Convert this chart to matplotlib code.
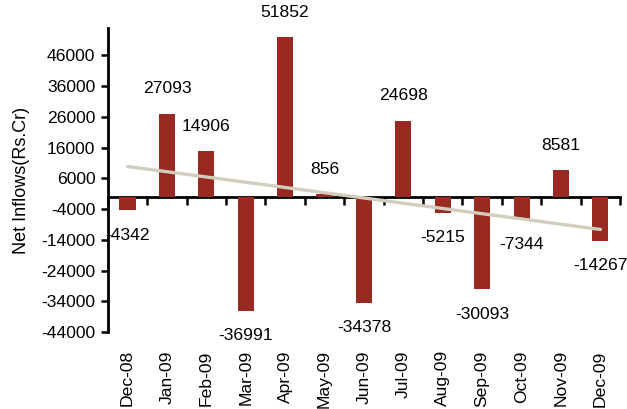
import numpy as np
import matplotlib
matplotlib.use("Agg")
import matplotlib.pyplot as plt

months = ["Dec-08", "Jan-09", "Feb-09", "Mar-09", "Apr-09", "May-09", "Jun-09",
          "Jul-09", "Aug-09", "Sep-09", "Oct-09", "Nov-09", "Dec-09"]
net_inflows = [-4342, 27093, 14906, -36991, 51852, 856, -34378,
               24698, -5215, -30093, -7344, 8581, -14267]
y_ticks = [-44000, -34000, -24000, -14000, -4000, 6000, 16000, 26000, 36000, 46000]

plt.rcParams["font.family"] = ["Liberation Sans", "DejaVu Sans"]
FS = 12.6

bar_color = "#982A22"
trend_color = "#D2CEBE"

fig = plt.figure(figsize=(6.27, 4.09), dpi=100)
ax = fig.add_axes([0.172, 0.188, 0.817, 0.744])

x = np.arange(len(months))
ax.bar(x, net_inflows, width=0.41, color=bar_color, zorder=2)

# linear trend through the monthly values
slope, intercept = np.polyfit(x, net_inflows, 1)
ax.plot([x[0], x[-1]], [intercept + slope * x[0], intercept + slope * x[-1]],
        color=trend_color, lw=2.4, zorder=3, solid_capstyle="round")

for xi, v in zip(x, net_inflows):
    off = 18 if v >= 0 else -18
    ax.annotate(f"{v}", (xi, v), xytext=(0, off), textcoords="offset points",
                ha="center", va="center", fontsize=FS, color="black")

ax.set_xlim(-0.5, len(months) - 0.5)
ax.set_ylim(-44000, 55000)
ax.set_yticks(y_ticks)
ax.set_yticklabels([str(t) for t in y_ticks], fontsize=FS)
ax.tick_params(axis="y", direction="out", length=5, width=1.8, pad=4)

ax.set_xticks(x)
ax.set_xticklabels(months, rotation=90, fontsize=FS)
ax.tick_params(axis="x", length=0, pad=13)

for side in ("top", "right", "bottom"):
    ax.spines[side].set_visible(False)
ax.spines["left"].set_linewidth(2)

ax.set_ylabel("Net Inflows(Rs.Cr)", fontsize=13, labelpad=8)

# category axis drawn along zero, with boundary tick marks
zero_axis = ax.secondary_xaxis(0, transform=ax.transData)
zero_axis.set_xticks(np.arange(len(months) + 1) - 0.5)
zero_axis.tick_params(direction="out", length=6, width=1.8, labelbottom=False)
zero_axis.spines["bottom"].set_linewidth(2)

fig.savefig("out.png", dpi=100)
